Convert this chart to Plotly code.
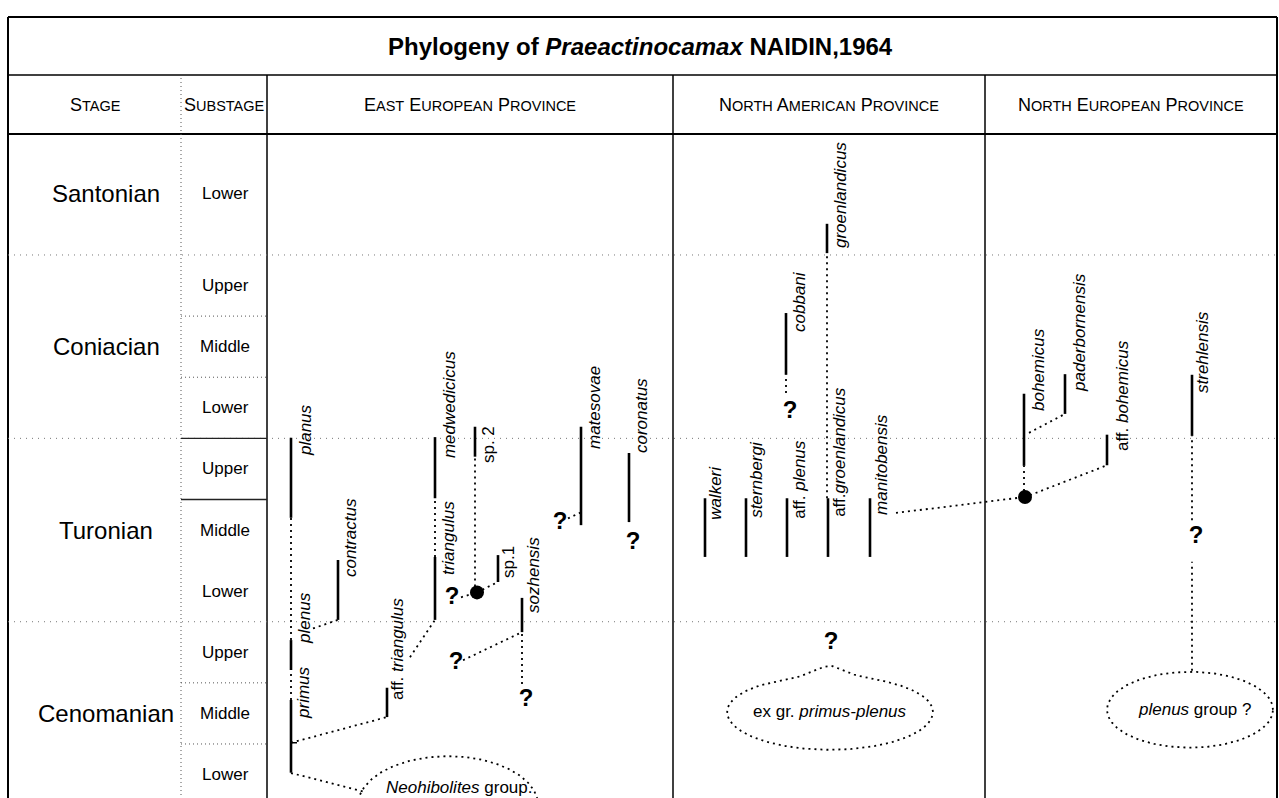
import numpy as np
import plotly.graph_objects as go

# ------------------------------------------------------------------
# DATA (vertical values are stratigraphic levels: one unit per substage,
# 0 = base of Lower Cenomanian, Santonian Lower spans 9..11)
# ------------------------------------------------------------------
title_html = "<b>Phylogeny of <i>Praeactinocamax</i> NAIDIN,1964</b>"

stages = ["Santonian", "Coniacian", "Turonian", "Cenomanian"]
stage_mid = [10.0, 7.5, 4.5, 1.5]

substages = ["Lower", "Upper", "Middle", "Lower", "Upper", "Middle", "Lower",
             "Upper", "Middle", "Lower"]
substage_mid = [10.0, 8.5, 7.5, 6.5, 5.5, 4.5, 3.5, 2.5, 1.5, 0.5]

header_cols = ["Stage", "Substage", "East European Province",
               "North American Province", "North European Province"]

species = ["primus", "plenus", "planus", "aff. triangulus", "contractus",
           "triangulus", "medwedicicus", "sp. 2", "sp.1", "sozhensis",
           "matesovae", "coronatus",
           "walkeri", "sternbergi", "aff. plenus", "aff.groenlandicus",
           "manitobensis", "cobbani", "groenlandicus",
           "bohemicus", "paderbornensis", "aff. bohemicus", "strehlensis"]
species_html = ["<i>primus</i>", "<i>plenus</i>", "<i>planus</i>",
                "aff. <i>triangulus</i>", "<i>contractus</i>", "<i>triangulus</i>",
                "<i>medwedicicus</i>", "sp. 2", "sp.1", "<i>sozhensis</i>",
                "<i>matesovae</i>", "<i>coronatus</i>",
                "<i>walkeri</i>", "<i>sternbergi</i>", "aff. <i>plenus</i>",
                "aff.<i>groenlandicus</i>", "<i>manitobensis</i>", "<i>cobbani</i>",
                "<i>groenlandicus</i>",
                "<i>bohemicus</i>", "<i>paderbornensis</i>", "aff. <i>bohemicus</i>",
                "<i>strehlensis</i>"]
range_bottom = [0.53, 2.21, 4.70, 1.44, 3.03, 3.03, 5.02, 5.70, 3.65, 2.83,
                4.58, 4.63,
                4.06, 4.06, 4.06, 4.06, 4.06, 7.04, 9.03,
                5.55, 6.40, 5.56, 6.04]
range_top = [1.72, 2.70, 6.01, 1.92, 4.01, 4.06, 6.02, 6.19, 4.09, 3.39,
             6.19, 5.76,
             5.02, 5.02, 5.02, 5.02, 5.02, 8.05, 9.51,
             6.73, 7.05, 6.06, 7.04]

# uncertain links ("?") levels
question_level = [3.39, 2.32, 1.72, 4.615, 4.29, 6.43, 2.65, 4.39]
# ancestral nodes (black dots)
node_level = [3.48, 5.04]

groups_html = ["<i>Neohibolites</i> group.", "ex gr. <i>primus-plenus</i>",
               "<i>plenus</i> group ?"]
group_level = [0.0, 1.525, 1.56]

# ------------------------------------------------------------------
# LAYOUT (canvas x in pixels, separate from data)
# ------------------------------------------------------------------
W, H = 1279, 798
PX0, PXU = 805.1, 61.125          # pixel of level 0, pixels per level


def lvl(px):
    return (PX0 - px) / PXU


lane_x = [291, 291, 291, 387, 338, 435, 435, 475, 498, 522, 581, 629,
          705, 746, 787, 828, 870, 786, 827,
          1024, 1065, 1107, 1192]
label_x = [304, 305, 305, 398, 350, 448, 449, 488, 508, 534, 594, 641,
           716, 757, 800, 840, 882, 800, 840,
           1038, 1080, 1122, 1203]
label_y = [1.835, 3.062, 6.136, 2.554, 4.369, 4.369, 6.545, 5.89, 3.977, 3.765,
           6.496, 6.365,
           5.108, 5.321, 5.321, 5.779, 5.566, 8.231, 9.981,
           7.118, 7.724, 6.692, 7.413]
label_angle = [-90] * len(species)

question_x = [452, 456, 526, 560, 633, 790, 831, 1196]
node_x = [477, 1025]

# dotted vertical continuations: (x, from level, to level)
dotted_vertical = [(291, 1.72, 2.21), (291, 2.70, 4.70), (435, 4.06, 5.02),
                   (475, 3.48, 5.70), (522, 1.98, 2.83), (786, 6.74, 7.04),
                   (827, 5.02, 9.03), (1024, 5.04, 5.55), (1192, 4.66, 6.04),
                   (1192, 2.20, 3.98)]
# dotted diagonal connectors: (x1, l1, x2, l2)
dotted_links = [(291, 1.02, 387, 1.44), (291, 0.525, 366, 0.21),
                (313, 2.89, 338, 3.03), (410, 2.42, 435, 3.03),
                (463, 2.37, 522, 2.83), (461, 3.40, 477, 3.48),
                (477, 3.48, 498, 3.65), (568, 4.69, 581, 4.79),
                (896, 4.78, 1025, 5.04), (1029, 6.09, 1065, 6.40),
                (1030, 5.07, 1107, 5.56)]

group_x = [448, 830, 1190]
group_text_x = [459, 830, 1195]
group_text_lvl = [0.28, 1.525, 1.56]
group_rx = [90, 103, 83]
group_ry_up = [0.80, 0.59, 0.62]
group_ry_dn = [0.80, 0.62, 0.62]
group_peak = [0.0, 0.16, 0.0]

FONT = "Liberation Sans, Arial, Helvetica, sans-serif"
DOT = "2px,4px"

fig = go.Figure()


def add_line(xs, ys, dash=None, width=2.0, color="black"):
    fig.add_trace(go.Scatter(x=xs, y=ys, mode="lines", hoverinfo="skip",
                             showlegend=False,
                             line=dict(color=color, width=width,
                                       dash=dash if dash else "solid")))


# ---------------- table frame ----------------
top_l, title_sep, head_sep = lvl(17), lvl(75), lvl(134)
bot = lvl(H + 5)
x_left, x_right = 8, 1277
x_stage_sep, col_sep = 181, [267, 673, 985]

add_line([x_left, x_right], [top_l, top_l], width=2)
add_line([x_left, x_right], [title_sep, title_sep], width=1.5)
add_line([x_left, x_right], [head_sep, head_sep], width=1.8)
add_line([x_left, x_left], [bot, top_l], width=2)
add_line([x_right, x_right], [bot, top_l], width=2)
for cx in col_sep:
    add_line([cx, cx], [bot, title_sep], width=1.5)
add_line([x_stage_sep, x_stage_sep], [bot, title_sep], dash="1px,3px",
         width=1, color="#555")

# stage boundaries (faint dotted across)
for b in [9, 6, 3]:
    add_line([x_left, x_right], [b, b], dash="1px,5px", width=1, color="#777")
# substage boundaries in the substage column
for b in [8, 7, 2, 1]:
    add_line([x_stage_sep, col_sep[0]], [b, b], dash="1px,3px", width=1,
             color="#555")
for b in [6, 5]:
    add_line([x_stage_sep, col_sep[0]], [b, b], width=1.3, color="#222")

# ---------------- ranges ----------------
for i, sp in enumerate(species):
    add_line([lane_x[i], lane_x[i]], [range_bottom[i], range_top[i]], width=2.6)
# small tick on primus
add_line([291, 297], [1.02, 1.02], width=1.5)

for (x, a, b) in dotted_vertical:
    add_line([x, x], [a, b], dash=DOT, width=1.8)
for (x1, a, x2, b) in dotted_links:
    add_line([x1, x2], [a, b], dash=DOT, width=1.8)

# ---------------- group outlines ----------------
t = np.linspace(0, 2 * np.pi, 241)
for i in range(len(groups_html)):
    ex = group_x[i] + group_rx[i] * np.cos(t)
    s = np.sin(t)
    ey = np.where(s > 0, group_ry_up[i] * s, group_ry_dn[i] * s) + group_level[i]
    if group_peak[i]:
        ey = ey + np.where(s > 0, group_peak[i] *
                           np.exp(-((ex - group_x[i]) / 20.0) ** 2), 0)
    add_line(ex, ey, dash=DOT, width=1.8)

# ---------------- nodes and question marks ----------------
fig.add_trace(go.Scatter(x=node_x, y=node_level, mode="markers",
                         hoverinfo="skip", showlegend=False,
                         marker=dict(size=14, color="black")))
fig.add_trace(go.Scatter(x=question_x, y=question_level, mode="text",
                         text=["<b>?</b>"] * len(question_x),
                         hoverinfo="skip", showlegend=False,
                         textfont=dict(size=24, color="black", family=FONT)))

ann = []
# species labels
for i in range(len(species)):
    ann.append(dict(x=label_x[i], y=label_y[i], text=species_html[i],
                    textangle=label_angle[i], showarrow=False,
                    xanchor="center", yanchor="middle",
                    font=dict(size=17, family=FONT, color="black")))
# group labels
for i in range(len(groups_html)):
    ann.append(dict(x=group_text_x[i], y=group_text_lvl[i], text=groups_html[i],
                    showarrow=False, xanchor="center", yanchor="middle",
                    font=dict(size=17, family=FONT, color="black")))
# stages
for s, m in zip(stages, stage_mid):
    ann.append(dict(x=106, y=m, text=s, showarrow=False, xanchor="center",
                    yanchor="middle", font=dict(size=24, family=FONT, color="black")))
for s, m in zip(substages, substage_mid):
    ann.append(dict(x=225, y=m, text=s, showarrow=False, xanchor="center",
                    yanchor="middle", font=dict(size=17, family=FONT, color="black")))


def small_caps(txt, small=14.5):
    out = []
    for w in txt.split(" "):
        out.append(w[0].upper() + '<span style="font-size:%spx">%s</span>'
                   % (small, w[1:].upper()))
    return " ".join(out)


header_x = [95, 224, 470, 829, 1131]
head_mid = (head_sep + title_sep) / 2
for h, hx in zip(header_cols, header_x):
    ann.append(dict(x=hx, y=head_mid, text=small_caps(h), showarrow=False,
                    xanchor="center", yanchor="middle",
                    font=dict(size=18, family=FONT, color="black")))
ann.append(dict(x=640, y=(top_l + title_sep) / 2, text=title_html,
                showarrow=False, xanchor="center", yanchor="middle",
                font=dict(size=24, family=FONT, color="black")))

fig.update_layout(
    width=W, height=H, margin=dict(l=0, r=0, t=0, b=0, pad=0),
    paper_bgcolor="white", plot_bgcolor="white",
    xaxis=dict(range=[0, W], visible=False, fixedrange=True),
    yaxis=dict(range=[lvl(H), lvl(0)], visible=False, fixedrange=True),
    annotations=ann, showlegend=False,
)

fig.write_html("out.html",
               config={"displayModeBar": False, "staticPlot": True},
               post_script="document.body.style.margin='0';"
                           "document.body.style.overflow='hidden';")
